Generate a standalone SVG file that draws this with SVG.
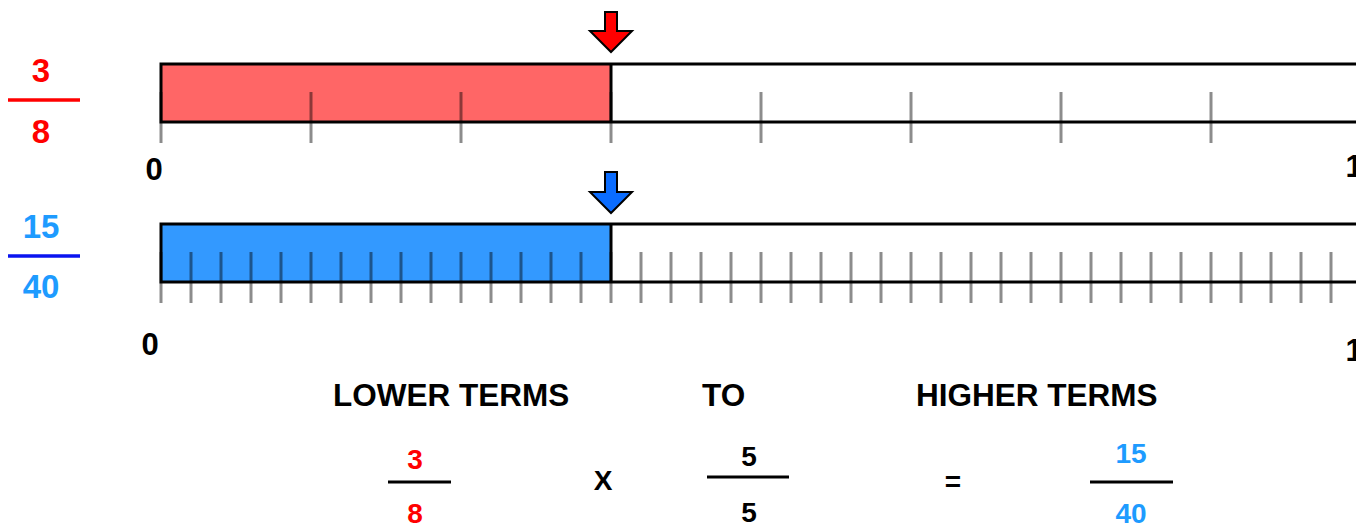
<svg xmlns="http://www.w3.org/2000/svg" width="1356" height="527" viewBox="0 0 1356 527">
<style>
text{font-family:"Liberation Sans",Arial,sans-serif;font-weight:bold;text-anchor:middle}
.big{font-size:33px}
.ax{font-size:31px}
.sm{font-size:28px}
.hd{font-size:31.5px;text-anchor:start}
.red{fill:#FF0000}
.lb{fill:#1E9BFF}
.blk{fill:#000}
.tick{stroke:#000;stroke-opacity:0.45;stroke-width:3}
.bord{stroke:#000;stroke-width:3;fill:none}
.arr{stroke:#000;stroke-width:2;stroke-linejoin:miter}
</style>
<rect width="1356" height="527" fill="#fff"/>
<g id="label-3-8">
<text class="big red" x="41" y="82">3</text>
<line x1="8" y1="100" x2="80" y2="100" stroke="#FF0000" stroke-width="3.5"/>
<text class="big red" x="41" y="143">8</text>
</g>
<g id="label-15-40">
<text class="big lb" x="41" y="238">15</text>
<line x1="8" y1="256" x2="80" y2="256" stroke="#0A14F0" stroke-width="3.5"/>
<text class="big lb" x="41" y="298">40</text>
</g>
<g id="bar-eighths">
<rect x="161" y="64" width="450" height="58" fill="#FF6666"/>
<g class="tick">
<line x1="161" y1="92" x2="161" y2="143"/><line x1="311" y1="92" x2="311" y2="143"/><line x1="461" y1="92" x2="461" y2="143"/><line x1="611" y1="92" x2="611" y2="143"/><line x1="761" y1="92" x2="761" y2="143"/><line x1="911" y1="92" x2="911" y2="143"/><line x1="1061" y1="92" x2="1061" y2="143"/><line x1="1211" y1="92" x2="1211" y2="143"/>
</g>
<path class="bord" d="M1360,64 H161 V122 H1360 M611,64 V122"/>
<text class="ax blk" x="154" y="180">0</text>
<text class="ax blk" x="1354" y="177">1</text>
<path class="arr" fill="#FF0000" d="M605,12 H617 V31 H632 L611,52 L590,31 H605 Z"/>
</g>
<g id="bar-fortieths">
<rect x="161" y="224" width="450" height="58" fill="#3399FF"/>
<g class="tick">
<line x1="161" y1="252" x2="161" y2="303"/><line x1="191" y1="252" x2="191" y2="303"/><line x1="221" y1="252" x2="221" y2="303"/><line x1="251" y1="252" x2="251" y2="303"/><line x1="281" y1="252" x2="281" y2="303"/><line x1="311" y1="252" x2="311" y2="303"/><line x1="341" y1="252" x2="341" y2="303"/><line x1="371" y1="252" x2="371" y2="303"/><line x1="401" y1="252" x2="401" y2="303"/><line x1="431" y1="252" x2="431" y2="303"/><line x1="461" y1="252" x2="461" y2="303"/><line x1="491" y1="252" x2="491" y2="303"/><line x1="521" y1="252" x2="521" y2="303"/><line x1="551" y1="252" x2="551" y2="303"/><line x1="581" y1="252" x2="581" y2="303"/><line x1="611" y1="252" x2="611" y2="303"/><line x1="641" y1="252" x2="641" y2="303"/><line x1="671" y1="252" x2="671" y2="303"/><line x1="701" y1="252" x2="701" y2="303"/><line x1="731" y1="252" x2="731" y2="303"/><line x1="761" y1="252" x2="761" y2="303"/><line x1="791" y1="252" x2="791" y2="303"/><line x1="821" y1="252" x2="821" y2="303"/><line x1="851" y1="252" x2="851" y2="303"/><line x1="881" y1="252" x2="881" y2="303"/><line x1="911" y1="252" x2="911" y2="303"/><line x1="941" y1="252" x2="941" y2="303"/><line x1="971" y1="252" x2="971" y2="303"/><line x1="1001" y1="252" x2="1001" y2="303"/><line x1="1031" y1="252" x2="1031" y2="303"/><line x1="1061" y1="252" x2="1061" y2="303"/><line x1="1091" y1="252" x2="1091" y2="303"/><line x1="1121" y1="252" x2="1121" y2="303"/><line x1="1151" y1="252" x2="1151" y2="303"/><line x1="1181" y1="252" x2="1181" y2="303"/><line x1="1211" y1="252" x2="1211" y2="303"/><line x1="1241" y1="252" x2="1241" y2="303"/><line x1="1271" y1="252" x2="1271" y2="303"/><line x1="1301" y1="252" x2="1301" y2="303"/><line x1="1331" y1="252" x2="1331" y2="303"/>
</g>
<path class="bord" d="M1360,224 H161 V282 H1360 M611,224 V282"/>
<text class="ax blk" x="150" y="355">0</text>
<text class="ax blk" x="1354" y="361">1</text>
<path class="arr" fill="#0A6CFF" d="M605,172 H617 V192 H632 L611,213 L590,192 H605 Z"/>
</g>
<g id="headings">
<text class="hd blk" x="333" y="406">LOWER TERMS</text>
<text class="hd blk" x="702" y="406">TO</text>
<text class="hd blk" x="916" y="406">HIGHER TERMS</text>
</g>
<g id="equation">
<text class="sm red" x="415" y="469">3</text>
<line x1="388" y1="482" x2="451" y2="482" stroke="#000" stroke-width="3"/>
<text class="sm red" x="415" y="523">8</text>
<text class="sm blk" x="603" y="490">X</text>
<text class="sm blk" x="749" y="466">5</text>
<line x1="707" y1="477" x2="789" y2="477" stroke="#000" stroke-width="3"/>
<text class="sm blk" x="749" y="522">5</text>
<text class="sm blk" x="953" y="491">=</text>
<text class="sm lb" x="1131" y="463">15</text>
<line x1="1090" y1="482" x2="1173" y2="482" stroke="#000" stroke-width="3"/>
<text class="sm lb" x="1131" y="523">40</text>
</g>
</svg>
